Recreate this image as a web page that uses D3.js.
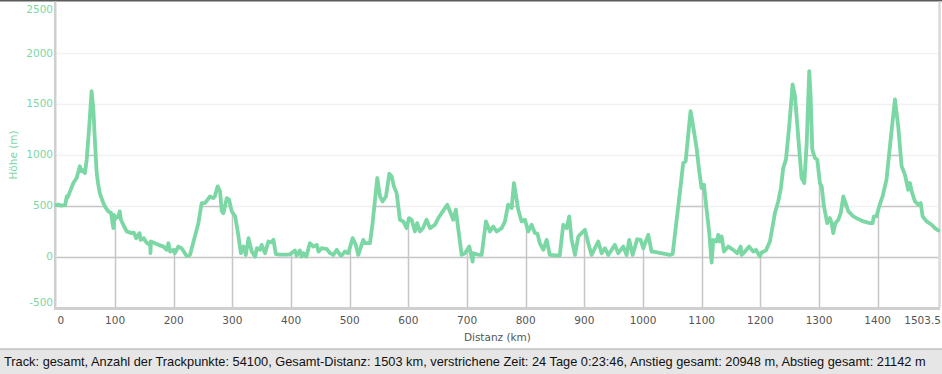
<!DOCTYPE html>
<html>
<head>
<meta charset="utf-8">
<script src="https://cdn.jsdelivr.net/npm/d3@7"></script>
<style>
  body { margin: 0; background: #fff; overflow: hidden; }
</style>
</head>
<body>
<svg id="chart" width="942" height="374"></svg>
<script>
// Distanz (km) of each read point
var distKm = [
  0, 3, 8, 15, 17.5, 19, 24, 28.8, 34.5, 40, 42.5, 45, 48.7, 51.6, 56, 60, 63, 66, 68.7, 71,
  74, 80, 84, 88.5, 93, 97, 98, 101, 104, 106.5, 108, 110, 115, 120, 128, 132, 136, 141.7, 143.6, 149,
  152, 155, 160, 160.4, 161, 166, 174, 182.5, 188, 191, 194, 199.6, 202, 207.7, 213.4, 219, 222, 227.7, 233, 238,
  242, 247.6, 253, 258, 261.8, 267.5, 270, 275, 279, 281.9, 284.7, 290.4, 294.4, 299, 304.7, 310, 314.4, 318.9, 322.9, 327.4,
  333, 338.8, 341.7, 347, 350, 355.7, 361.4, 366, 370, 374, 380, 390, 398, 406.7, 409.5, 415, 418, 421, 426, 432,
  438, 443.9, 446.7, 452.4, 461, 466.6, 472, 478, 483.7, 486, 492, 497.5, 505, 510, 514.6, 523, 526, 534.5, 539, 547,
  551.6, 556, 561.8, 567.5, 571.5, 575.4, 580, 585.6, 591.3, 597, 601, 605.6, 611.2, 615, 619.7, 625, 631, 636.8, 645.3, 651,
  656.7, 666.3, 670.9, 676.5, 681, 683.4, 690.8, 696.4, 703.8, 709.5, 710.6, 718, 724.9, 732.2, 739, 744.7, 750.5, 759, 764.6, 770,
  776, 780, 787.3, 793, 798.7, 804.4, 810, 815.7, 820, 824, 830, 835.7, 841, 858, 864, 869.8, 874.2, 878.3, 884, 889.6,
  895.3, 901, 906.6, 912.4, 923.6, 929.4, 935, 940.7, 952, 957.7, 966.3, 972, 976.5, 982.3, 990, 996, 1000.4, 1008.9, 1014.6, 1017.4,
  1026, 1046, 1050.5, 1060, 1068.5, 1072.6, 1081, 1084.5, 1091.3, 1095.8, 1099.8, 1103.8, 1108.4, 1112.9, 1116.9, 1119.7, 1125.4, 1128.2, 1131, 1134,
  1137.9, 1145.3, 1153.8, 1160.6, 1166.4, 1168, 1173.7, 1181, 1187.9, 1192.4, 1199.2, 1202, 1209.5, 1216.3, 1224.8, 1230.5, 1235, 1239, 1243.6, 1249.2,
  1255, 1259, 1266.3, 1270.3, 1274.9, 1279, 1283.3, 1285.7, 1288.5, 1293, 1297, 1301.5, 1304.5, 1308.4, 1314, 1318.6, 1321.5, 1324.3, 1327.8, 1332.9,
  1337, 1341.4, 1347.2, 1350, 1358.5, 1367, 1375.6, 1387, 1391.3, 1393.5, 1398, 1402.5, 1408.3, 1415, 1420.9, 1429.4, 1435, 1440.8, 1446.4, 1452,
  1455, 1458, 1463.5, 1469.2, 1473.3, 1476.6, 1483.4, 1492, 1497.6, 1503.5
];

// Höhe (m) at those points
var heightM = [
  505, 510, 500, 505, 590, 580, 650, 722, 771, 886, 837, 850, 820, 951, 1280, 1624, 1444, 1100, 820, 720,
  624, 525, 480, 443, 430, 280, 410, 377, 385, 410, 443, 361, 300, 246, 230, 235, 180, 230, 164, 180,
  150, 131, 115, 33, 148, 135, 115, 98, 66, 131, 49, 66, 33, 98, 82, 33, 5, 16, 131, 240,
  328, 525, 525, 560, 590, 574, 590, 689, 640, 443, 426, 574, 558, 443, 394, 213, 33, 98, 16, 180,
  49, 0, 82, 66, 115, 33, 148, 140, 164, 25, 20, 20, 22, 59, 10, 59, 0, 33, 0, 131,
  98, 115, 49, 82, 72, 33, 16, 66, 16, 10, 50, 33, 181, 120, 16, 164, 131, 131, 328, 771,
  590, 541, 590, 814, 787, 689, 623, 361, 345, 279, 378, 361, 246, 328, 246, 280, 361, 279, 312, 378,
  427, 509, 443, 361, 460, 345, 16, 33, 98, -49, 33, 20, 16, 345, 246, 295, 246, 279, 345, 509,
  476, 722, 460, 345, 361, 246, 312, 230, 225, 131, 66, 164, 16, 10, 312, 279, 394, 164, 16, 197,
  230, 262, 131, 16, 148, 33, 82, 16, 115, 33, 98, 16, 164, 16, 170, 164, 82, 213, 49, 49,
  39, 16, 25, 492, 919, 935, 1427, 1312, 1066, 837, 673, 706, 460, 230, -59, 164, 148, 213, 148, 197,
  49, 98, 66, 33, 98, 16, 49, 98, 49, 66, 0, 39, 59, 148, 427, 541, 673, 870, 951, 1280,
  1690, 1575, 1050, 771, 722, 1116, 1821, 1575, 1050, 968, 951, 722, 689, 492, 328, 378, 328, 230, 328, 361,
  427, 590, 492, 443, 394, 368, 345, 328, 328, 394, 394, 492, 590, 755, 1083, 1542, 1280, 886, 804, 656,
  722, 640, 541, 509, 525, 394, 345, 312, 279, 256
];

var xTicks = [0, 100, 200, 300, 400, 500, 600, 700, 800, 900, 1000, 1100, 1200, 1300, 1400];
var xTickLabels = ['0', '100', '200', '300', '400', '500', '600', '700', '800', '900', '1000', '1100', '1200', '1300', '1400'];
var xEndLabel = '1503.5';
var yTicks = [-500, 0, 500, 1000, 1500, 2000, 2500];
var xTitle = 'Distanz (km)';
var yTitle = 'Höhe (m)';
var statusText = 'Track: gesamt, Anzahl der Trackpunkte: 54100, Gesamt-Distanz: 1503 km, verstrichene Zeit: 24 Tage 0:23:46, Anstieg gesamt: 20948 m, Abstieg gesamt: 21142 m';

var points = distKm.map(function (d, i) { return { km: d, h: heightM[i] }; });

var chart_width = 942;
var chart_height = 374;
var green = '#7bd7a4';
var svg = d3.select('#chart');

// Scales
var xScale = d3.scaleLinear().domain([0, 1503.5]).range([56.4, 938.4]);
var yScale = d3.scaleLinear().domain([-500, 2500]).range([307.5, 1.9]);

// Clip: area under the curve, grid is darker there
var area = d3.area()
  .x(d => xScale(d.km))
  .y0(yScale(-500))
  .y1(d => yScale(d.h));

svg.append('clipPath')
  .attr('id', 'under')
  .append('path')
  .attr('d', area(points));

// Light grid (above curve)
var gridLight = svg.append('g');
gridLight.selectAll('line.h')
  .data(yTicks.slice(1, 6))
  .enter()
  .append('line')
  .attr('x1', xScale(0))
  .attr('x2', xScale(1503.5))
  .attr('y1', d => Math.round(yScale(d)) + 0.5)
  .attr('y2', d => Math.round(yScale(d)) + 0.5)
  .attr('stroke', '#f1f1f1')
  .attr('stroke-width', 1.5);

// Dark grid (below curve)
var gridDark = svg.append('g').attr('clip-path', 'url(#under)');
gridDark.selectAll('line.h')
  .data(yTicks.slice(1, 6))
  .enter()
  .append('line')
  .attr('x1', xScale(0))
  .attr('x2', xScale(1503.5))
  .attr('y1', d => Math.round(yScale(d)) + 0.5)
  .attr('y2', d => Math.round(yScale(d)) + 0.5)
  .attr('stroke', '#c6c6c6')
  .attr('stroke-width', 1.5);
gridDark.selectAll('line.v')
  .data(xTicks.slice(1))
  .enter()
  .append('line')
  .attr('x1', d => Math.round(xScale(d)) + 0.5)
  .attr('x2', d => Math.round(xScale(d)) + 0.5)
  .attr('y1', yScale(-500))
  .attr('y2', yScale(2500))
  .attr('stroke', '#c6c6c6')
  .attr('stroke-width', 1.5);

// Frame bars
svg.append('rect').attr('x', 0).attr('y', 0).attr('width', chart_width).attr('height', 1.5).attr('fill', '#5a5a5a');
svg.append('rect').attr('x', 54).attr('y', 1.5).attr('width', 2.5).attr('height', 308.5).attr('fill', '#cfcfcf');
svg.append('rect').attr('x', 54).attr('y', 307).attr('width', 886).attr('height', 3).attr('fill', '#cfcfcf');
svg.append('rect').attr('x', 938.3).attr('y', 1.5).attr('width', 2.5).attr('height', 306).attr('fill', '#d9d9d9');

// Elevation line
var line = d3.line()
  .x(d => xScale(d.km))
  .y(d => yScale(d.h));

svg.append('path')
  .datum(points)
  .attr('d', line)
  .attr('fill', 'none')
  .attr('stroke', green)
  .attr('stroke-width', 3.8)
  .attr('stroke-linejoin', 'round')
  .attr('stroke-linecap', 'round');

// Y tick labels
svg.selectAll('text.ytick')
  .data(yTicks)
  .enter()
  .append('text')
  .attr('x', 53)
  .attr('y', d => Math.max(9, Math.min(302, yScale(d))))
  .attr('dy', '0.35em')
  .attr('text-anchor', 'end')
  .attr('font-family', 'DejaVu Sans, sans-serif')
  .attr('font-size', '10.5px')
  .attr('fill', green)
  .text(d => d);

// X tick labels
svg.selectAll('text.xtick')
  .data(xTicks)
  .enter()
  .append('text')
  .attr('x', (d, i) => i === 0 ? xScale(d) + 1 : xScale(d))
  .attr('y', 324)
  .attr('text-anchor', (d, i) => i === 0 ? 'start' : 'middle')
  .attr('font-family', 'DejaVu Sans, sans-serif')
  .attr('font-size', '10.5px')
  .attr('fill', '#555')
  .text((d, i) => xTickLabels[i]);

svg.append('text')
  .attr('x', 941)
  .attr('y', 324)
  .attr('text-anchor', 'end')
  .attr('font-family', 'DejaVu Sans, sans-serif')
  .attr('font-size', '10.5px')
  .attr('fill', '#555')
  .text(xEndLabel);

// Axis titles
svg.append('text')
  .attr('x', (xScale.range()[0] + xScale.range()[1]) / 2)
  .attr('y', 341)
  .attr('text-anchor', 'middle')
  .attr('font-family', 'DejaVu Sans, sans-serif')
  .attr('font-size', '10.5px')
  .attr('fill', '#555')
  .text(xTitle);

svg.append('text')
  .attr('transform', 'translate(17,155) rotate(-90)')
  .attr('text-anchor', 'middle')
  .attr('font-family', 'DejaVu Sans, sans-serif')
  .attr('font-size', '10.5px')
  .attr('fill', green)
  .text(yTitle);

// Status bar
svg.append('rect').attr('x', 0).attr('y', 349).attr('width', chart_width).attr('height', 25).attr('fill', '#e6e6e6');
svg.append('rect').attr('x', 0).attr('y', 348.5).attr('width', chart_width).attr('height', 1).attr('fill', '#a8a8a8');
svg.append('text')
  .attr('x', 4)
  .attr('y', 366)
  .attr('font-family', 'Liberation Sans, Arial, sans-serif')
  .attr('font-size', '12.8px')
  .attr('fill', '#111')
  .text(statusText);
</script>
</body>
</html>
